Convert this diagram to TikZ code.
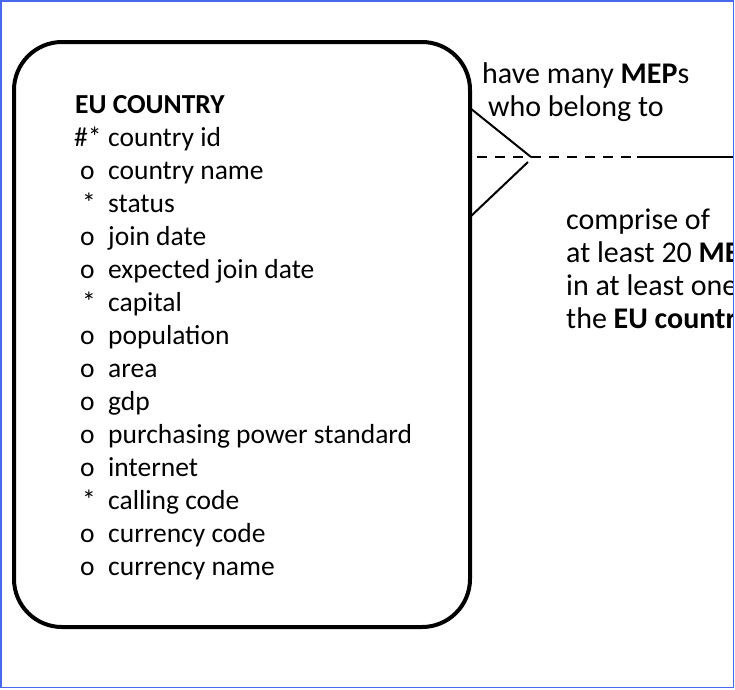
\documentclass[tikz,border=0pt]{standalone}
\usepackage{fontspec}
\setmainfont{Carlito}
\definecolor{framecol}{RGB}{72,104,240}
\begin{document}
\begin{tikzpicture}[x=1pt,y=-1pt,
  txt/.style={anchor=base west, inner sep=0pt, font=\fontsize{27.5}{33}\selectfont},
  lbl/.style={anchor=base west, inner sep=0pt, font=\fontsize{30}{33}\selectfont},
  entity/.style={draw, line width=4pt, rounded corners=48pt, minimum width=456pt, minimum height=585pt, inner sep=0pt},
  footline/.style={line width=2pt},
  dashline/.style={line width=2pt, dash pattern=on 10pt off 8pt},
  framebox/.style={draw=framecol, line width=1.5pt}]
\useasboundingbox (0,0) rectangle (735,689);
\begin{scope}
\clip (0,0) rectangle (733,689);
\node[entity] (eu) at (242,334.5) {};
% title and attributes
\node[txt] (title) at (75,113) {\textbf{EU COUNTRY}};
\node[txt] (m1) at (74,146) {\#*};  \node[txt] (a1) at (108,146) {country id};
\node[txt] (m2) at (80,179) {o};    \node[txt] (a2) at (108,179) {country name};
\node[txt] (m3) at (82,212) {*};    \node[txt] (a3) at (108,212) {status};
\node[txt] (m4) at (80,245) {o};    \node[txt] (a4) at (108,245) {join date};
\node[txt] (m5) at (80,278) {o};    \node[txt] (a5) at (108,278) {expected join date};
\node[txt] (m6) at (82,311) {*};    \node[txt] (a6) at (108,311) {capital};
\node[txt] (m7) at (80,344) {o};    \node[txt] (a7) at (108,344) {population};
\node[txt] (m8) at (80,377) {o};    \node[txt] (a8) at (108,377) {area};
\node[txt] (m9) at (80,410) {o};    \node[txt] (a9) at (108,410) {gdp};
\node[txt] (m10) at (80,443) {o};   \node[txt] (a10) at (108,443) {purchasing power standard};
\node[txt] (m11) at (80,476) {o};   \node[txt] (a11) at (108,476) {internet};
\node[txt] (m12) at (82,509) {*};   \node[txt] (a12) at (108,509) {calling code};
\node[txt] (m13) at (80,542) {o};   \node[txt] (a13) at (108,542) {currency code};
\node[txt] (m14) at (80,575) {o};   \node[txt] (a14) at (108,575) {currency name};
% relationship labels
\node[lbl] (r1) at (482,83) {have many \textbf{MEP}s};
\node[lbl] (r2) at (488,116) {who belong to};
\node[lbl] (s1) at (566,229) {comprise of};
\node[lbl] (s2) at (566,262) {at least 20 \textbf{MEPs}};
\node[lbl] (s3) at (566,295) {in at least one of};
\node[lbl] (s4) at (566,328) {the \textbf{EU countries}};
% crow's foot connector
\coordinate (ft) at (470,108);
\coordinate (fb) at (470,217);
\coordinate (tip) at (531,157);
\coordinate (tipb) at (528,162);
\coordinate (ds) at (477,157);
\coordinate (de) at (637,157);
\coordinate (far) at (740,157);
\draw[footline] (ft) -- (tip);
\draw[footline] (tipb) -- (fb);
\draw[dashline] (ds) -- (de);
\draw[footline] (de) -- (far);
\end{scope}
\draw[framebox] (0.75,0.75) rectangle (733.5,687.5);
\end{tikzpicture}
\end{document}
